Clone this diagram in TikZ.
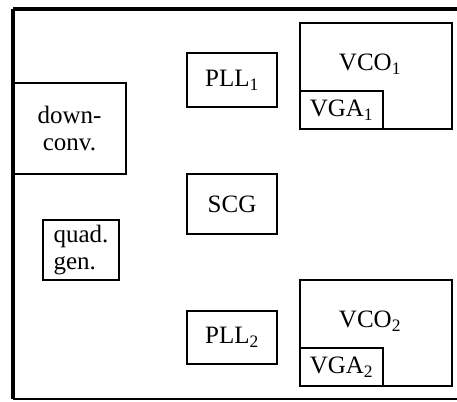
\documentclass[tikz,border=0pt]{standalone}
\usepackage{fontspec}
\setmainfont{Liberation Serif}
\usetikzlibrary{positioning, calc}

\begin{document}
\begin{tikzpicture}[x=1pt, y=-1pt, font=\fontsize{25}{26.5}\selectfont,
    blk/.style={draw, line width=1.8pt, rectangle, inner sep=0pt, outer sep=0pt, align=center},
    vga/.style={draw, line width=2.6pt, rectangle, inner sep=0pt, outer sep=0pt, minimum width=83pt, minimum height=38pt, anchor=south west}]
    \useasboundingbox (0,0) rectangle (457,401);

    % chip outline
    \coordinate (tl) at (13,9);
    \coordinate (tr) at (457,9);
    \coordinate (bl) at (13,399);
    \coordinate (br) at (457,399);
    \draw[line width=3.4pt] (tr) -- (tl);
    \draw[line width=3.8pt] (tl) -- (bl);
    \draw[line width=2.2pt] (bl) -- (br);

    \node [blk, minimum width=113pt, minimum height=91pt] (down) at (69.5,128.5) {down-\\conv.};
    \node [blk, minimum width=76pt, minimum height=60pt, align=left] (quad) at (81,250) {quad.\\gen.};

    \node [blk, minimum width=90pt, minimum height=54pt] (pll1) at (232,80) {PLL\textsubscript{1}};
    \node [blk, minimum width=90pt, minimum height=60pt] (scg) at (232,204) {SCG};
    \node [blk, minimum width=90pt, minimum height=53pt] (pll2) at (232,337.5) {PLL\textsubscript{2}};

    \node [blk, minimum width=152pt, minimum height=106pt] (vco1) at (376,76) {};
    \node (vco1t) at ($(vco1.north)+(-6,41)$) {VCO\textsubscript{1}};
    \node [vga] (vga1) at (vco1.south west) {VGA\textsubscript{1}};

    \node [blk, minimum width=152pt, minimum height=106pt] (vco2) at (376,333) {};
    \node (vco2t) at ($(vco2.north)+(-6,41)$) {VCO\textsubscript{2}};
    \node [vga] (vga2) at (vco2.south west) {VGA\textsubscript{2}};
\end{tikzpicture}
\end{document}
